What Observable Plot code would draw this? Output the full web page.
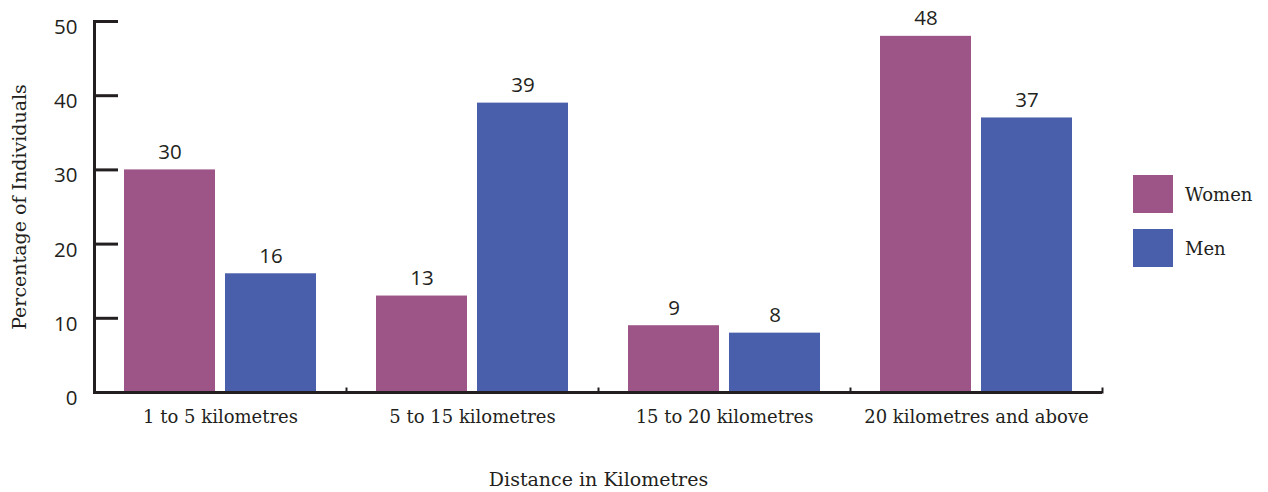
<!DOCTYPE html>
<html><head><meta charset="utf-8">
<script src="https://cdn.jsdelivr.net/npm/d3@7"></script>
<script src="https://cdn.jsdelivr.net/npm/@observablehq/plot@0.6"></script>
<style>
body{margin:0;background:#fff}
#wrap{position:relative;width:1268px;height:492px}
.legend{position:absolute;left:1133px;top:175px;font-family:"DejaVu Serif";font-size:18px;color:#231f20}
.item{display:flex;align-items:center;height:38px;margin-bottom:16px}
.sw{width:40px;height:38px;margin-right:12px}
</style></head><body><div id="wrap"></div>
<script>
const categories = ["1 to 5 kilometres", "5 to 15 kilometres", "15 to 20 kilometres", "20 kilometres and above"];
const series = ["Women", "Men"];
const women = [30, 13, 9, 48];
const men = [16, 39, 8, 37];
const yTicks = [0, 10, 20, 30, 40, 50];
const colors = ["#9d5587", "#4a5fab"];
const ink = "#231f20";

const data = categories.flatMap((c, i) => [
  {category: c, sex: "Women", value: women[i]},
  {category: c, sex: "Men", value: men[i]}
]);

const plot = Plot.plot({
  width: 1268, height: 492,
  marginLeft: 94, marginRight: 166, marginTop: 21, marginBottom: 100,
  style: {background: "#fff", color: ink},
  fx: {domain: categories, paddingInner: 0, paddingOuter: 0, label: null},
  x: {domain: series, paddingInner: 0.099, paddingOuter: 0.297, axis: null},
  y: {domain: [0, 50]},
  color: {domain: series, range: colors},
  marks: [
    Plot.barY(data, {fx: "category", x: "sex", y: "value", fill: "sex"}),
    Plot.text(data, {fx: "category", x: "sex", y: "value", text: d => String(d.value), lineAnchor: "bottom", dy: -11, fontFamily: "Open Sans", fontSize: 20.5, fill: ink}),
    Plot.ruleY([0], {stroke: ink, strokeWidth: 3}),
    Plot.frame({anchor: "right", insetTop: 367, stroke: ink, strokeWidth: 2}),
    Plot.frame({anchor: "left", facetAnchor: "left", stroke: ink, strokeWidth: 3}),
    Plot.axisY({ticks: yTicks.slice(1), tickSize: -24, tickFormat: () => "", strokeWidth: 3, label: null}),
    Plot.axisY({ticks: yTicks, tickSize: 0, tickPadding: 17, dy: 6, fontFamily: "Open Sans", fontSize: 20.5, label: null}),
    Plot.axisY({ticks: [], tickSize: 0, label: "Percentage of Individuals", labelAnchor: "center", labelArrow: "none", labelOffset: 82, fontFamily: "DejaVu Serif", fontSize: 19}),
    Plot.axisFx({anchor: "bottom", tickSize: 0, tickPadding: 18, label: null, fontFamily: "DejaVu Serif", fontSize: 18}),
    Plot.axisFx({anchor: "bottom", ticks: [], tickSize: 0, label: "Distance in Kilometres", labelAnchor: "center", labelArrow: "none", labelOffset: 93, fontFamily: "DejaVu Serif", fontSize: 19})
  ]
});

const wrap = document.getElementById("wrap");
wrap.appendChild(plot);
const legend = document.createElement("div");
legend.className = "legend";
series.forEach((s, i) => {
  const item = document.createElement("div");
  item.className = "item";
  const sw = document.createElement("div");
  sw.className = "sw";
  sw.style.background = colors[i];
  const t = document.createElement("span");
  t.textContent = s;
  item.appendChild(sw);
  item.appendChild(t);
  legend.appendChild(item);
});
wrap.appendChild(legend);
</script>
</body></html>
